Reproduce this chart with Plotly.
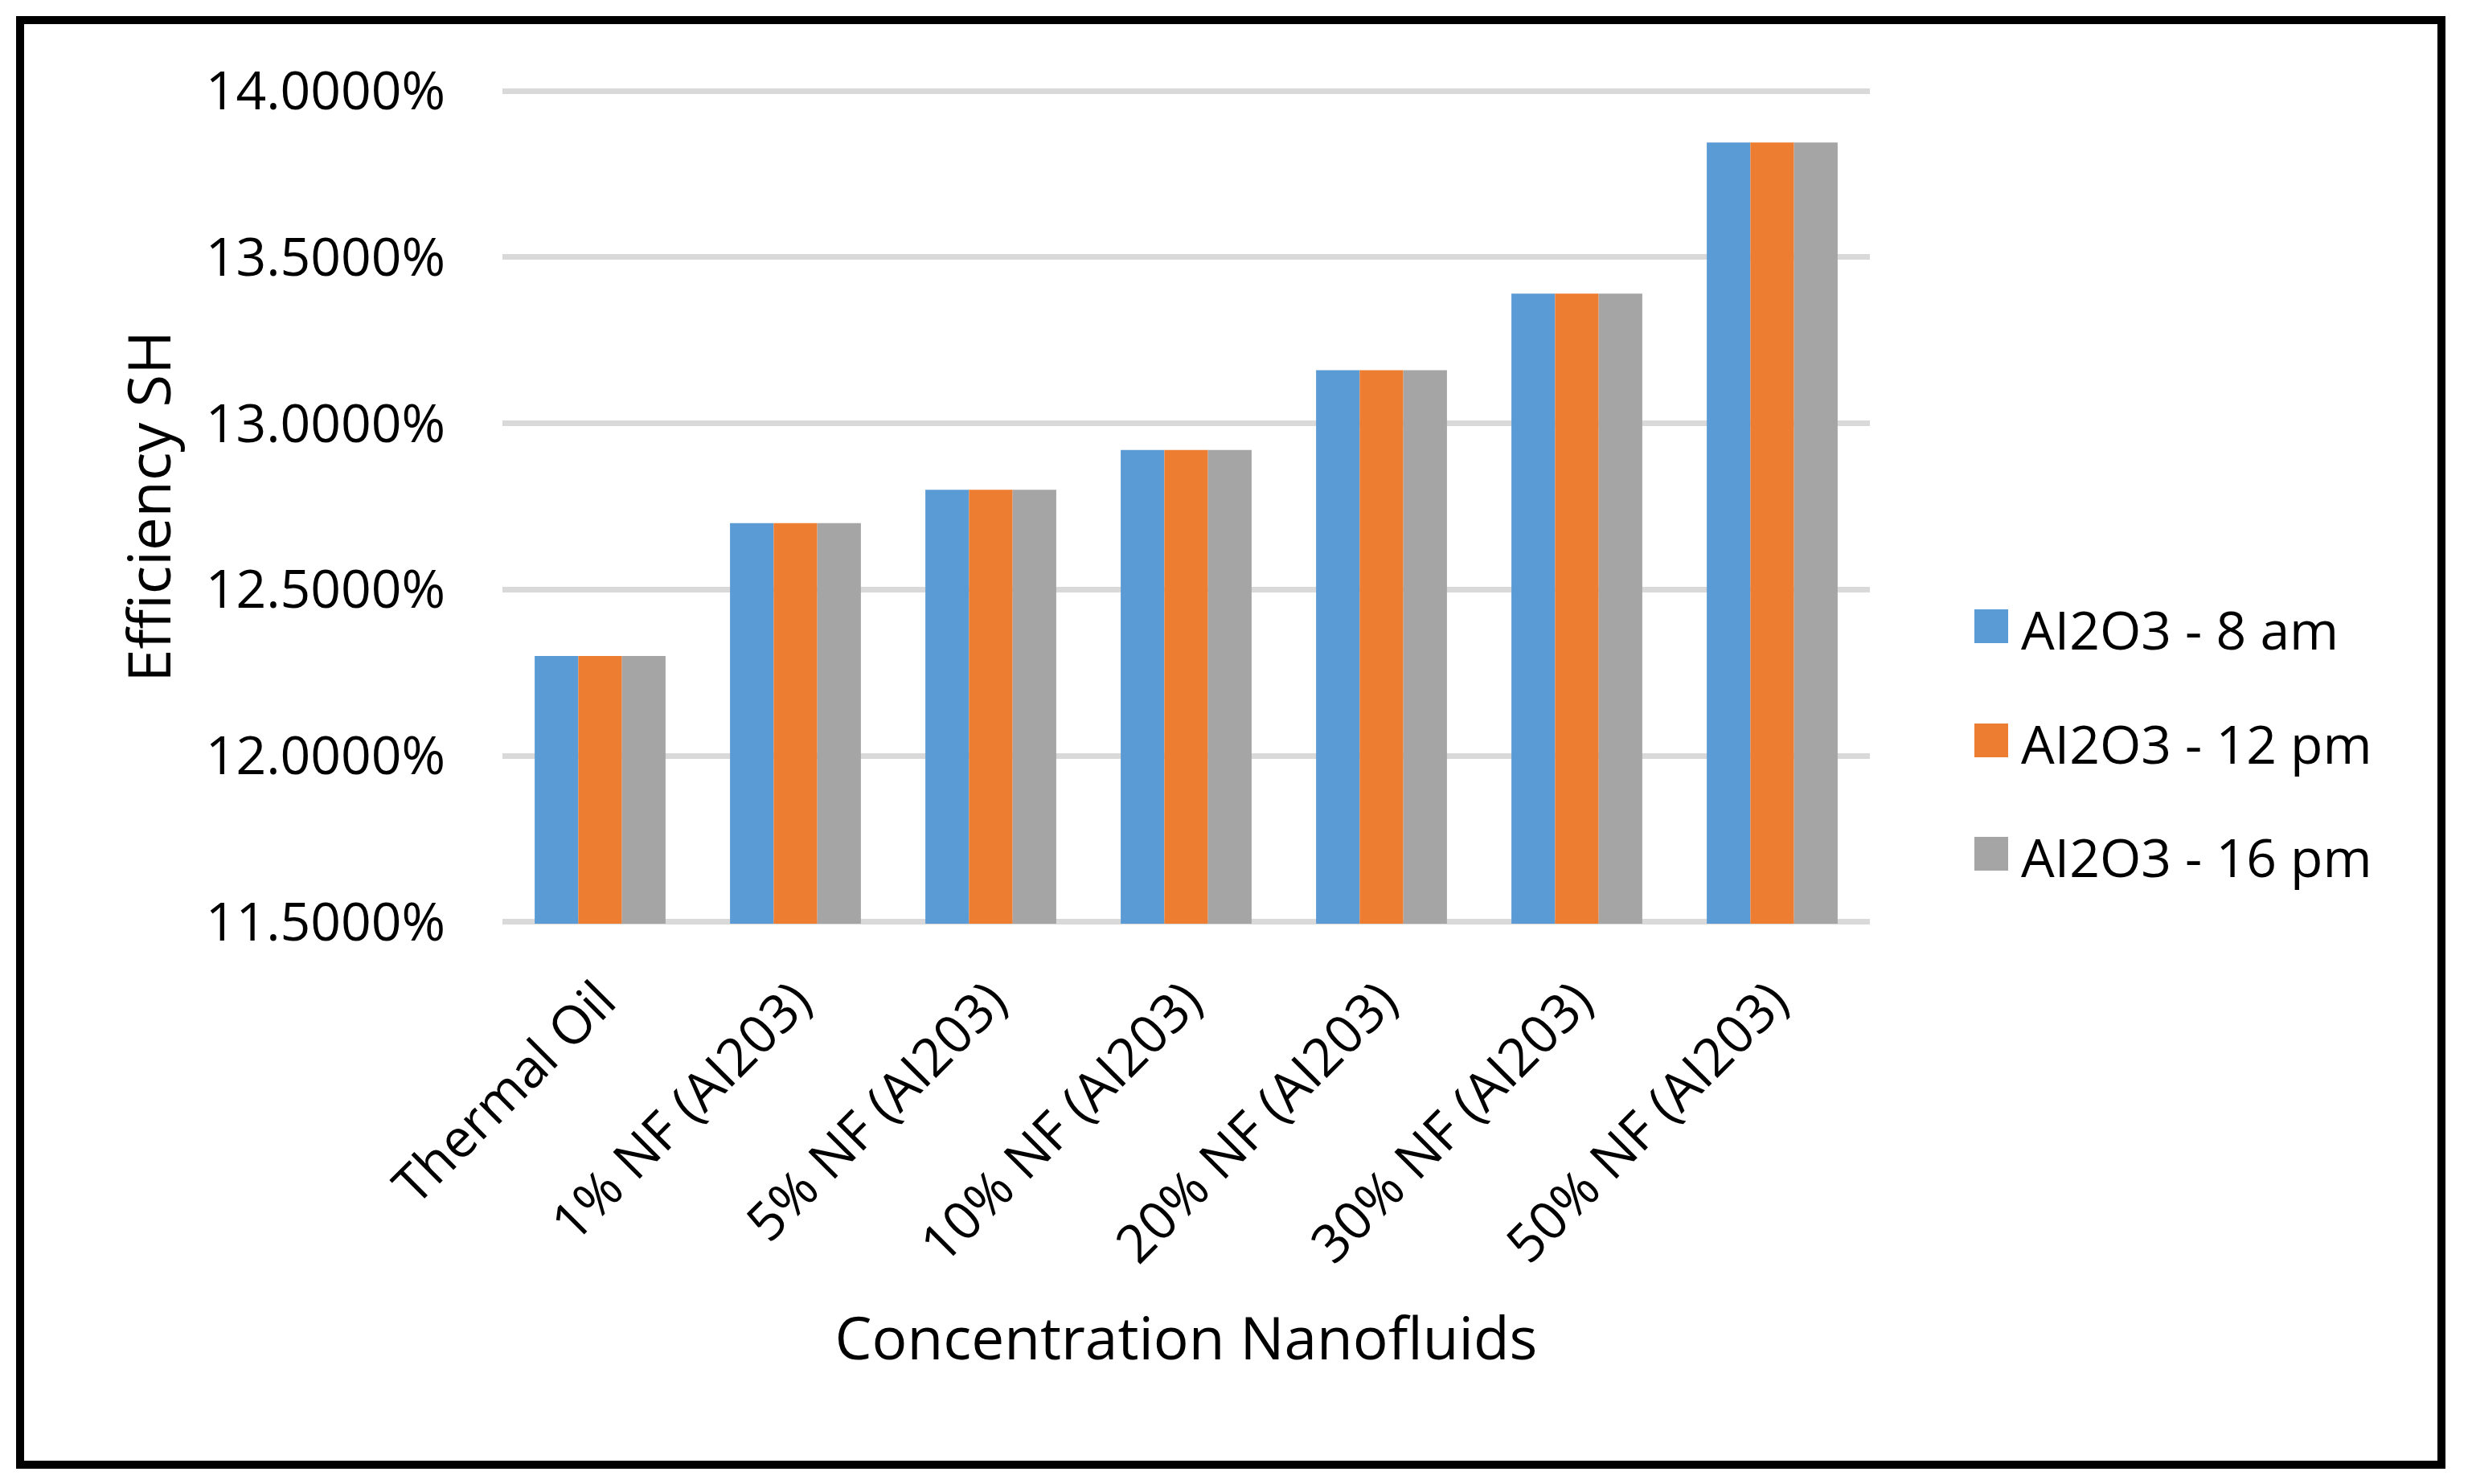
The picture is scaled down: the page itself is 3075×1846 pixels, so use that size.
import plotly.graph_objects as go

# ---------------- data ----------------
categories = ["Thermal Oil", "1% NF (AI203)", "5% NF (AI203)", "10% NF (AI203)",
              "20% NF (AI203)", "30% NF (AI203)", "50% NF (AI203)"]
series_names = ["AI2O3 - 8 am", "AI2O3 - 12 pm", "AI2O3 - 16 pm"]
eff_8am = [12.30, 12.70, 12.80, 12.92, 13.16, 13.39, 13.845]
eff_12pm = [12.30, 12.70, 12.80, 12.92, 13.16, 13.39, 13.845]
eff_16pm = [12.30, 12.70, 12.80, 12.92, 13.16, 13.39, 13.845]
y_ticks = [11.5, 12.0, 12.5, 13.0, 13.5, 14.0]
y_ticktext = ["11.5000%", "12.0000%", "12.5000%", "13.0000%", "13.5000%", "14.0000%"]
colors = ["#5B9BD5", "#ED7D31", "#A5A5A5"]

# ---------------- layout constants (pixels) ----------------
W, H = 3075, 1846
L, R, T, B = 625, 2326, 111, 1149  # plot area edges (range padded ~2px each side)
FONT = "Open Sans, Segoe UI, Liberation Sans, sans-serif"


def px_x(p):
    return (p - L) / (R - L)


def px_y(p):
    return (B - p) / (B - T)


fig = go.Figure()
for name, vals, col in zip(series_names, [eff_8am, eff_12pm, eff_16pm], colors):
    fig.add_trace(go.Bar(x=categories, y=vals, name=name, marker_color=col,
                         marker_line_width=0, showlegend=False))

# custom legend (large square swatches like the original)
leg_y = [779, 921, 1062]
shapes = []
annotations = []
for name, col, yc in zip(series_names, colors, leg_y):
    shapes.append(dict(type="rect", xref="paper", yref="paper",
                       x0=px_x(2456), x1=px_x(2498), y0=px_y(yc + 21), y1=px_y(yc - 21),
                       fillcolor=col, line_width=0))
    annotations.append(dict(text=name, xref="paper", yref="paper", x=px_x(2512), y=px_y(yc + 3),
                            xanchor="left", yanchor="middle", showarrow=False,
                            font=dict(family=FONT, size=66, color="black")))

# outer black frame
shapes.append(dict(type="rect", xref="paper", yref="paper",
                   x0=px_x(25), x1=px_x(3037), y0=px_y(1822), y1=px_y(25),
                   line=dict(color="black", width=10), fillcolor="rgba(0,0,0,0)"))

fig.update_layout(
    width=W, height=H,
    margin=dict(l=L, r=W - R, t=T, b=H - B, pad=0),
    paper_bgcolor="white", plot_bgcolor="white",
    barmode="group", bargap=0.33, bargroupgap=0,
    font=dict(family=FONT, size=66, color="black"),
    shapes=shapes, annotations=annotations,
    showlegend=False,
)
fig.update_yaxes(range=[11.495, 14.005], tickvals=y_ticks, ticktext=y_ticktext,
                 showgrid=True, gridcolor="#D9D9D9", gridwidth=7, zeroline=False,
                 showline=False, ticks="", ticklabelstandoff=70,
                 tickfont=dict(family=FONT, size=66, color="black"),
                 title=dict(text="Efficiency SH", font=dict(family=FONT, size=74, color="black"),
                            standoff=18))
fig.update_xaxes(tickangle=-45, showgrid=False, zeroline=False, showline=False, ticks="",
                 ticklabelstandoff=43,
                 tickfont=dict(family=FONT, size=66, color="black"),
                 title=dict(text="Concentration Nanofluids",
                            font=dict(family=FONT, size=73, color="black"), standoff=52))

fig.write_html("out.html", config={"displayModeBar": False},
               post_script="document.body.style.margin='0px';")
